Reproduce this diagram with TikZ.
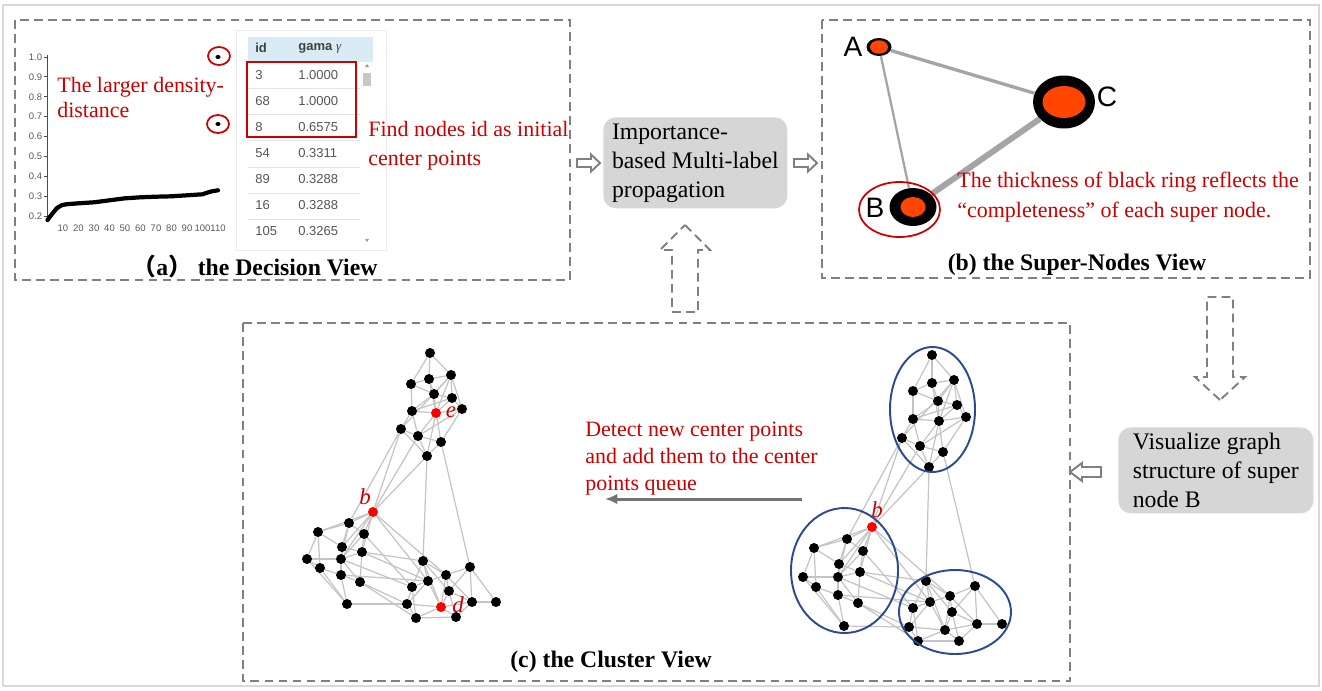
\documentclass[tikz,border=0pt]{standalone}
\usepackage{fontspec}
\setmainfont{Liberation Serif}
\setsansfont{Liberation Sans}
\newfontfamily\cjk{Noto Sans CJK SC}
\usetikzlibrary{shapes.geometric, arrows.meta, backgrounds}
\definecolor{framegray}{RGB}{128,128,128}
\definecolor{boxgray}{RGB}{214,214,214}
\definecolor{notered}{RGB}{204,0,0}
\definecolor{edgegray}{RGB}{196,196,196}
\definecolor{ringgray}{RGB}{165,165,165}
\definecolor{coreorange}{RGB}{255,69,0}
\definecolor{clusterblue}{RGB}{44,74,145}
\definecolor{headblue}{RGB}{217,236,246}
\definecolor{tabletext}{RGB}{85,85,85}

\tikzset{
  pics/blockarrow/.style n args={4}{code={%
    \draw[pic actions] (0,0) -- (-#2,#3) -- (-#2,#4) -- (-#1,#4)
      -- (-#1,-#4) -- (-#2,-#4) -- (-#2,-#3) -- cycle;
  }}
}

\begin{document}
\begin{tikzpicture}[
    x=0.02cm, y=-0.02cm,
    panel/.style={draw=framegray, line width=1.1pt, dash pattern=on 5pt off 3pt},
    procbox/.style={rectangle, rounded corners=0.25cm, fill=boxgray, align=left, inner sep=0pt, font=\fontsize{13.5}{16.5}\selectfont},
    note/.style={text=notered, align=left, inner sep=0pt, anchor=west, font=\fontsize{12.5}{15}\selectfont},
    viewtitle/.style={inner sep=0pt, font=\fontsize{13.5}{16}\selectfont\bfseries},
    ticklabel/.style={inner sep=0pt, text=black!65, font=\sffamily\fontsize{5.4}{6}\selectfont},
    cell/.style={inner sep=0pt, anchor=west, text=tabletext, font=\sffamily\fontsize{7.4}{8}\selectfont},
    ringnode/.style={ellipse, fill=black, inner sep=0pt},
    core/.style={ellipse, fill=coreorange, inner sep=0pt},
    letter/.style={inner sep=0pt, font=\sffamily\fontsize{16}{18}\selectfont},
    dot/.style={circle, fill=black, minimum size=0.2cm, inner sep=0pt},
    hotdot/.style={dot, fill=red},
    tag/.style={inner sep=0pt, text=notered, font=\fontsize{13}{15}\selectfont\itshape},
    link/.style={draw=edgegray, line width=0.7pt},
    flow/.style={draw=framegray, fill=white, line width=1.1pt},
    dashflow/.style={draw=framegray, line width=1.1pt, dash pattern=on 5pt off 3pt},
    pushback/.style={-{Latex[length=7pt, width=6pt]}, draw=black!55, line width=1.7pt}
]
\useasboundingbox (0,0) rectangle (1322,690);
\draw[draw=black!15, line width=0.7pt] (3,5) rectangle (1319,686);

% Three views
\draw[panel] (15,20) rectangle (570,280);
\draw[panel] (822,20) rectangle (1310,278);
\draw[panel] (243,323) rectangle (1070,681);

% (a) decision graph
\draw[black!70, line width=0.5pt] (47,55) -- (47,221);
\foreach \v/\t in {10/1.0, 9/0.9, 8/0.8, 7/0.7, 6/0.6, 5/0.5, 4/0.4, 3/0.3, 2/0.2} {
  \draw[black!70, line width=0.5pt] (44,{57+(10-\v)*19.9}) -- (47,{57+(10-\v)*19.9});
  \node[ticklabel, anchor=east] (ytick\v) at (42.5,{57+(10-\v)*19.9}) {\t};
}
\foreach \n in {10,20,...,110}
  \node[ticklabel] (xtick\n) at ({47.5+1.55*\n},228) {\n};
\draw[line width=2.4pt, line join=round, line cap=round] plot coordinates {
  (47.5,220) (52,214) (57,208) (61.5,205.3) (66,204.3) (78.5,203.3) (94,202.3)
  (109.5,200.3) (125,198.3) (140.5,197.3) (156,196.7) (171.5,196.3) (187,195.3)
  (202.5,194.3) (207,192.7) (212,191.3) (218,190.3)};
\fill (218,57) ellipse (2.6 and 2);
\fill (218,124) ellipse (2.6 and 2);
\draw[notered, line width=1pt] (219,56) ellipse (11 and 9);
\draw[notered, line width=1pt] (218,124) ellipse (11 and 9);
\node[note, font=\fontsize{12.5}{14.2}\selectfont] (densitynote) at (57,97.5) {The larger density-\\distance};

% (a) gamma table
\draw[black!8, fill=white] (236,30) rectangle (386,250);
\fill[headblue] (248,37) rectangle (373,62);
\foreach \y in {88,114,140,167,193,219}
  \draw[black!10, line width=0.5pt] (248,\y) -- (360,\y);
\node[cell, text=black!75, font=\sffamily\bfseries\fontsize{7.4}{8}\selectfont] (idhead) at (255,48) {id};
\node[cell, text=black!75, font=\sffamily\bfseries\fontsize{7.4}{8}\selectfont] (gamahead) at (298,48) {gama \textnormal{\textit{γ}}};
\foreach \i/\g [count=\k] in {3/1.0000, 68/1.0000, 8/0.6575, 54/0.3311, 89/0.3288, 16/0.3288, 105/0.3265} {
  \node[cell] (rowid\k) at (255,{49+26*\k}) {\i};
  \node[cell] (rowval\k) at (298,{49+26*\k}) {\g};
}
\fill[black!22] (363,73) rectangle (371,86);
\fill[black!40] (365,67) -- (369,67) -- (367,64) -- cycle;
\fill[black!40] (365,239) -- (369,239) -- (367,242) -- cycle;
\draw[notered, line width=1pt] (247,62) rectangle (356,137);
\node[note, font=\fontsize{12.5}{16.5}\selectfont] (findnote) at (368,146) {Find nodes id as initial\\center points};
\node[viewtitle] (titlea) at (255,266) {{\cjk （}a{\cjk ）} the Decision View};

% Propagation step
\node[procbox, minimum width=3.68cm, minimum height=1.82cm, anchor=north west] (prop) at (603,117) {Importance-\\based Multi-label\\propagation};
\pic[flow] at (600,163) {blockarrow={23}{9}{8.5}{4}};
\pic[flow] at (817,163) {blockarrow={23}{9}{8.5}{4}};
\pic[dashflow, rotate=90] at (685,225) {blockarrow={87}{25}{25}{13}};

% (b) super nodes
\node[ringnode, minimum width=0.5cm, minimum height=0.36cm] (A) at (879,47) {};
\node[core, minimum width=0.36cm, minimum height=0.27cm] (Acore) at (A.center) {};
\node[ringnode, minimum width=0.94cm, minimum height=0.76cm] (B) at (913,207) {};
\node[core, minimum width=0.5cm, minimum height=0.4cm] (Bcore) at (B.center) {};
\node[ringnode, minimum width=1.24cm, minimum height=1.06cm] (C) at (1064,102) {};
\node[core, minimum width=0.86cm, minimum height=0.64cm] (Ccore) at (C.center) {};
\begin{scope}[on background layer]
  \draw[ringgray, line width=1.9pt] (A) -- (C);
  \draw[ringgray, line width=1.3pt] (A) -- (B);
  \draw[ringgray, line width=3.4pt] (B) -- (C);
\end{scope}
\node[letter] (Alabel) at (853,47) {A};
\node[letter] (Blabel) at (875,208) {B};
\node[letter] (Clabel) at (1107,97) {C};
\draw[notered, line width=1pt] (899.5,209.5) ellipse (40.5 and 27.5);
\node[note, font=\fontsize{12.5}{17}\selectfont] (ringnote) at (957,197) {The thickness of black ring reflects the\\“completeness” of each super node.};
\node[viewtitle] (titleb) at (1077,265) {(b) the Super-Nodes View};

% Drill down into super node B
\pic[dashflow, rotate=-90] at (1220,400) {blockarrow={103}{23}{25}{13}};
\node[procbox, minimum width=3.9cm, minimum height=1.72cm, anchor=north west] (vis) at (1118,427) {Visualize graph\\structure of super\\node B};
\pic[flow, rotate=180] at (1070,472) {blockarrow={31}{12}{9}{5}};

% (c) cluster view, left layout
\foreach \n/\x/\y in {t1/430/353, t2/411/384, t3/429/379, t4/451/375, t5/434/394, t6/452/398,
    t7/412/411, t9/462/409, t10/401/429, t11/418/436, t12/441/442, t13/427/456,
    p1/349/523, p2/318/532, p3/364/534, p4/342/547, p5/307/559, p6/341/559, p7/362/552,
    p8/320/568, p9/341/575, p10/360/582, p11/347/604,
    q1/423/561, q2/470/567, q3/446/575, q4/428/581, q5/412/587, q6/449/591, q7/407/604,
    q9/472/602, q10/496/602, q11/416/618, q12/456/617}
  \node[dot] (l\n) at (\x,\y) {};
\foreach \n/\x/\y in {t8/436/413, b/373/512, q8/441/607}
  \node[hotdot] (l\n) at (\x,\y) {};
\node[tag] (etag) at (451,412) {e};
\node[tag] (btag) at (365,497) {b};
\node[tag] (dtag) at (458,605) {d};

% (c) cluster view, right layout
\foreach \n/\x/\y in {t1/932/355, t2/913/391, t3/932/383, t4/954/380, t5/938/401, t6/957/405,
    t7/913/419, t8/939/421, t9/966/417, t10/902/438, t11/920/446, t12/943/452, t13/929/467,
    p1/847/539, p2/814/548, p3/863/551, p4/839/564, p5/803/577, p6/838/577, p7/860/572,
    p8/816/587, p9/838/595, p10/858/603, p11/844/626,
    q1/926/581, q2/975/586, q3/950/596, q4/930/602, q5/913/608, q6/952/612, q7/909/627,
    q8/945/630, q9/977/624, q10/1002/624, q11/918/641, q12/959/641}
  \node[dot] (r\n) at (\x,\y) {};
\node[hotdot] (rb) at (872,527) {};
\node[tag] (rbtag) at (877,510) {b};
\draw[clusterblue, line width=1.1pt] (932.5,409.5) ellipse (42.5 and 62.5);
\draw[clusterblue, line width=1.1pt] (844.5,570.5) ellipse (53.5 and 62.5);
\draw[clusterblue, line width=1.1pt] (955,612) ellipse (56 and 42);

% Graph edges, same structure in both layouts
\begin{scope}[on background layer]
  \foreach \g in {l,r}
    \foreach \src/\dst in {t1/t2, t1/t3, t1/t4, t2/t3, t2/t5, t2/t7, t3/t4, t3/t5, t3/t8,
        t4/t5, t4/t6, t4/t9, t4/t8, t5/t6, t5/t7, t5/t8, t6/t8, t6/t9, t7/t8, t7/t10,
        t7/t11, t8/t9, t8/t11, t8/t12, t8/t13, t9/t12, t10/t11, t10/t13, t11/t12,
        t11/t13, t12/t13, t9/t11, t6/t7, t4/t10,
        t13/b, t10/b, t11/b, t10/p1, t13/q1, t12/q2,
        b/p1, b/p2, b/p3, b/p4, b/p6, b/p7, p1/p2, p1/p3, p1/p4, p1/p6, p2/p4, p2/p5,
        p2/p8, p3/p6, p3/p7, p4/p6, p4/p7, p4/p9, p5/p6, p5/p8, p6/p7, p6/p9, p6/p10,
        p7/p10, p8/p9, p8/p11, p9/p10, p9/p11, p5/p11,
        p11/q7, b/q4, b/q3, p3/q5, p7/q4, p7/q1, p10/q7, p6/q5, p10/q11, p9/q4,
        q1/q3, q1/q4, q1/q5, q1/q8, q1/q6, q2/q3, q2/q6, q2/q9, q2/q10, q3/q4, q3/q6,
        q3/q8, q4/q5, q4/q7, q4/q8, q5/q7, q5/q11, q6/q8, q6/q9, q6/q12, q7/q11, q7/q8,
        q8/q11, q8/q12, q8/q9, q9/q10, q9/q12, q11/q12, q3/q9}
      \draw[link] (\g\src) -- (\g\dst);
\end{scope}

% New center points feed back
\coordinate (detectfrom) at (802,499);
\coordinate (detectto) at (605,499);
\draw[pushback] (detectfrom) -- (detectto);
\node[note, font=\fontsize{12.5}{15.2}\selectfont] (detectnote) at (585,458.5) {Detect new center points\\and add them to the center\\points queue};
\node[viewtitle] (titlec) at (611,662) {(c) the Cluster View};

\end{tikzpicture}
\end{document}
